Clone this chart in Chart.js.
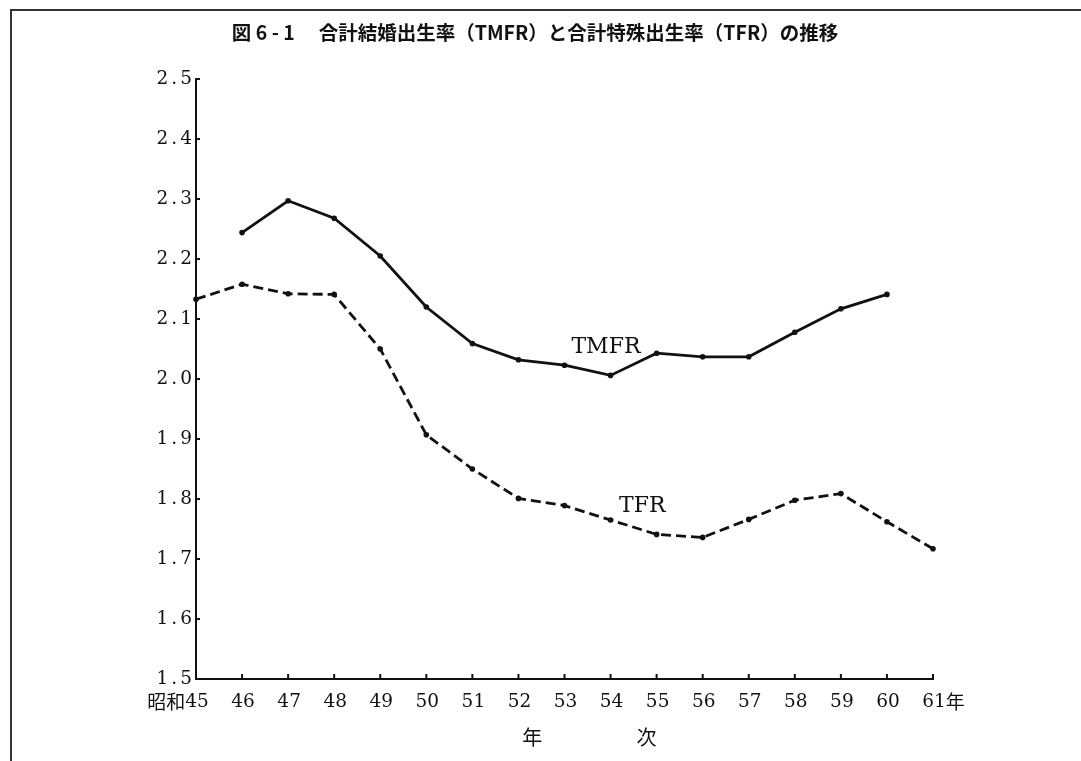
<!DOCTYPE html>
<html lang="ja">
<head>
<meta charset="utf-8">
<title>図6-1 合計結婚出生率（TMFR）と合計特殊出生率（TFR）の推移</title>
<script src="https://cdn.jsdelivr.net/npm/chart.js@4/dist/chart.umd.min.js"></script>
<style>
  html, body { margin: 0; padding: 0; background: #fff; }
  #wrap { width: 1081px; height: 761px; position: relative; }
</style>
</head>
<body>
<div id="wrap"><canvas id="fertilityChart"></canvas></div>
<script>
  /* ─── Data (昭和45〜61年) ─── */
  const years      = ['45', '46', '47', '48', '49', '50', '51', '52', '53', '54', '55', '56', '57', '58', '59', '60', '61'];
  const tickLabels = ['昭和45', '46', '47', '48', '49', '50', '51', '52', '53', '54', '55', '56', '57', '58', '59', '60', '61年'];
  const tmfr       = [null, 2.244, 2.297, 2.268, 2.205, 2.120, 2.059, 2.032, 2.023, 2.006, 2.043, 2.037, 2.037, 2.078, 2.117, 2.141, null];
  const tfr        = [2.133, 2.158, 2.142, 2.141, 2.050, 1.907, 1.850, 1.801, 1.789, 1.765, 1.741, 1.736, 1.766, 1.798, 1.809, 1.762, 1.717];
  const yTicks     = [1.5, 1.6, 1.7, 1.8, 1.9, 2.0, 2.1, 2.2, 2.3, 2.4, 2.5];

  const TITLE      = '図 6 - 1　 合計結婚出生率（TMFR）と合計特殊出生率（TFR）の推移';
  const AXIS_TITLE = ['年', '次'];
  const INK        = '#111';
  const SERIF      = "'DejaVu Serif', 'Liberation Serif', serif";
  const GOTHIC     = "'Noto Sans CJK JP', 'Noto Sans', sans-serif";

  /* ─── Decorations: frame, title, inward ticks, x labels, series labels ─── */
  const decorations = {
    id: 'decorations',
    beforeDraw(chart) {
      const ctx = chart.ctx;
      ctx.save();
      ctx.strokeStyle = '#333';
      ctx.lineWidth = 2;
      ctx.beginPath();
      ctx.moveTo(11, chart.height);
      ctx.lineTo(11, 10);
      ctx.lineTo(chart.width, 10);
      ctx.stroke();

      ctx.fillStyle = INK;
      ctx.font = 'bold 19.5px ' + GOTHIC;
      ctx.textAlign = 'center';
      ctx.textBaseline = 'middle';
      ctx.fillText(TITLE, 535, 33);
      ctx.restore();
      // wider digit spacing for the y tick labels (scales draw next)
      ctx.letterSpacing = '3px';
    },
    beforeDatasetsDraw(chart) {
      chart.ctx.letterSpacing = '0px';
    },
    afterDraw(chart) {
      const ctx = chart.ctx;
      const xs = chart.scales.x;
      const ys = chart.scales.y;
      const area = chart.chartArea;
      ctx.save();
      ctx.letterSpacing = '0px';
      ctx.strokeStyle = INK;
      ctx.lineWidth = 2;

      // inward tick marks
      ctx.beginPath();
      yTicks.forEach(function (v) {
        const y = ys.getPixelForValue(v);
        ctx.moveTo(area.left, y);
        ctx.lineTo(area.left + 4, y);
      });
      years.forEach(function (_, i) {
        const x = xs.getPixelForValue(i);
        ctx.moveTo(x, area.bottom);
        ctx.lineTo(x, area.bottom - 5);
      });
      ctx.stroke();

      // x tick labels: number centred on the tick, prefix/suffix outside
      ctx.fillStyle = INK;
      ctx.textBaseline = 'middle';
      const ly = area.bottom + 23;
      tickLabels.forEach(function (lab, i) {
        const m = lab.match(/^(\D*)(\d+)(\D*)$/);
        const x = xs.getPixelForValue(i) + 1;
        ctx.font = '18.5px ' + SERIF;
        const w = ctx.measureText(m[2]).width;
        ctx.textAlign = 'center';
        ctx.fillText(m[2], x, ly);
        ctx.font = '19px ' + GOTHIC;
        if (m[1]) { ctx.textAlign = 'right'; ctx.fillText(m[1], x - w / 2, ly); }
        if (m[3]) { ctx.textAlign = 'left'; ctx.fillText(m[3], x + w / 2, ly); }
      });

      // axis title 年 次
      ctx.font = '20px ' + GOTHIC;
      ctx.textAlign = 'center';
      ctx.fillText(AXIS_TITLE[0], xs.getPixelForValue(7.3), area.bottom + 58);
      ctx.fillText(AXIS_TITLE[1], xs.getPixelForValue(9.78), area.bottom + 58);

      // series labels
      ctx.font = '22px ' + SERIF;
      ctx.fillText('TMFR', xs.getPixelForValue(8.9), ys.getPixelForValue(2.053));
      ctx.fillText('TFR', xs.getPixelForValue(9.69), ys.getPixelForValue(1.788));
      ctx.restore();
    }
  };

  new Chart(document.getElementById('fertilityChart'), {
    type: 'line',
    data: {
      labels: years,
      datasets: [{
        label: 'TMFR',
        data: tmfr,
        borderColor: INK,
        backgroundColor: INK,
        borderWidth: 2.8,
        pointRadius: 2.8,
        pointBackgroundColor: INK,
        pointBorderWidth: 0,
        tension: 0
      }, {
        label: 'TFR',
        data: tfr,
        borderColor: INK,
        backgroundColor: INK,
        borderWidth: 2.8,
        borderDash: [10, 5],
        pointRadius: 2.8,
        pointBackgroundColor: INK,
        pointBorderWidth: 0,
        tension: 0
      }]
    },
    options: {
      responsive: true,
      maintainAspectRatio: false,
      animation: false,
      layout: { autoPadding: false, padding: { top: 79, right: 148, left: 0, bottom: 0 } },
      plugins: {
        legend: { display: false },
        tooltip: { enabled: false },
        title: { display: false }
      },
      scales: {
        x: {
          offset: false,
          grid: { display: false, drawTicks: false },
          border: { display: true, color: INK, width: 2 },
          ticks: { display: false },
          afterFit: function (s) { s.height = 82; }
        },
        y: {
          min: 1.5,
          max: 2.5,
          grid: { display: false, drawTicks: false },
          border: { display: true, color: INK, width: 2 },
          afterBuildTicks: function (s) { s.ticks = yTicks.map(function (v) { return { value: v }; }); },
          ticks: {
            padding: 1,
            color: INK,
            font: { family: SERIF, size: 18.5 },
            callback: function (v) { return Number(v).toFixed(1); }
          },
          afterFit: function (s) { s.width = 196; }
        }
      }
    },
    plugins: [decorations]
  });
</script>
</body>
</html>
